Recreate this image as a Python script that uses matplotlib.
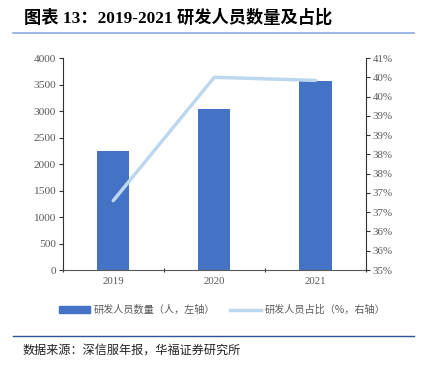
import matplotlib.pyplot as plt
from matplotlib.lines import Line2D
from matplotlib.patches import Patch
from matplotlib.ticker import FuncFormatter

years = ["2019", "2020", "2021"]
staff = [2251, 3032, 3566]
ratio = [36.8, 40.0, 39.92]

bar_color = "#4472C4"
line_color = "#BDD7EE"
grey = "#595959"

plt.rcParams['font.family'] = ['Liberation Serif', 'Noto Sans CJK SC', 'DejaVu Sans']

fig = plt.figure(figsize=(4.31, 3.73), dpi=100)
ax = fig.add_axes([0.1455, 0.276, 0.7035, 0.5685])

x = range(len(years))
ax.bar(x, staff, width=0.32, color=bar_color, zorder=2)
ax.set_xlim(-0.5, 2.5)
ax.set_ylim(0, 4000)
ax.set_yticks(range(0, 4001, 500))
ax.set_xticks([-0.5, 0.5, 1.5, 2.5])
ax.set_xticklabels([])
ax.set_xticks(list(x), minor=True)
ax.set_xticklabels(years, minor=True)
ax.tick_params(axis='x', which='minor', length=0, labelsize=7.8, labelcolor=grey, pad=5)
ax.tick_params(axis='x', which='major', length=3, direction='inout', color='#333333')
ax.tick_params(axis='y', labelsize=8.2, labelcolor=grey, length=3, color='#333333', pad=2)
for s in ['top', 'right']:
    ax.spines[s].set_visible(False)
ax.spines['left'].set_color('#333333')
ax.spines['bottom'].set_color('#595959')

ax2 = ax.twinx()
ax2.plot(x, ratio, color=line_color, lw=2.5, solid_capstyle='round', zorder=3)
ax2.set_ylim(35, 40.5)
ax2.set_yticks([35 + 0.5 * i for i in range(12)])
ax2.yaxis.set_major_formatter(FuncFormatter(lambda v, p: f"{v + 1e-9:.0f}%"))
ax2.tick_params(axis='y', labelsize=7.8, labelcolor=grey, length=3, color='#333333', pad=2)
for s in ['top', 'left', 'bottom']:
    ax2.spines[s].set_visible(False)
ax2.spines['right'].set_color('#333333')

fig.text(0.056, 0.952, "图表 13：2019-2021 研发人员数量及占比", fontsize=12.4,
         fontweight='bold', ha='left', va='center',
         family=['Liberation Serif', 'Noto Sans CJK SC'])
fig.add_artist(Line2D([0.030, 0.961], [0.911, 0.911], color="#8EA9DB", lw=1.2))

handles = [Patch(color=bar_color), Line2D([], [], color=line_color, lw=2.5)]
labels = ["研发人员数量（人，左轴）", "研发人员占比（%，右轴）"]
leg = fig.legend(handles, labels, loc='center', bbox_to_anchor=(0.515, 0.169), ncol=2,
                 frameon=False, fontsize=7.3, handlelength=3.05, handleheight=0.55,
                 columnspacing=1.5, handletextpad=0.35)
for t in leg.get_texts():
    t.set_color(grey)
    t.set_family(['Noto Sans CJK SC', 'DejaVu Sans'])

fig.add_artist(Line2D([0.030, 0.961], [0.098, 0.098], color="#2F5597", lw=1.0))
fig.text(0.053, 0.062, "数据来源：深信服年报，华福证券研究所", fontsize=8.7, ha='left',
         va='center', color='#222222', family=['Noto Sans CJK SC', 'DejaVu Sans'])

fig.savefig("out.png", dpi=100)
